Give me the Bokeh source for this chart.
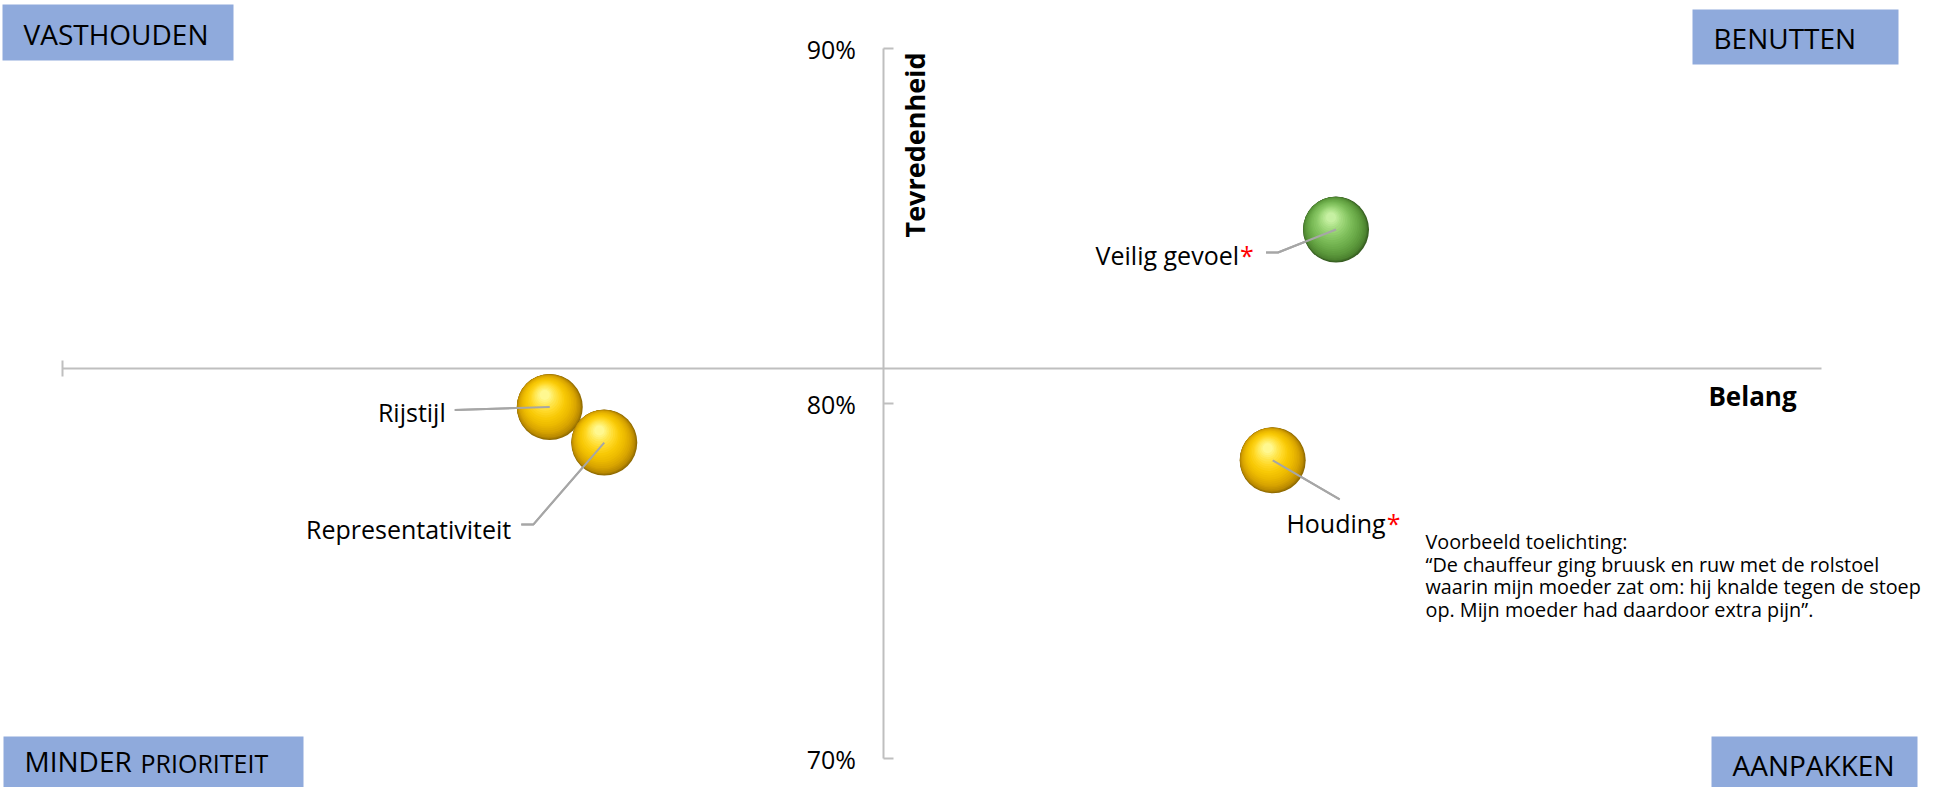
from bokeh.plotting import figure
from bokeh.models import Label, FixedTicker, ColumnDataSource
from bokeh.embed import file_html
from bokeh.resources import INLINE

# ---------------- data ----------------
names = ["Rijstijl", "Representativiteit", "Veilig gevoel", "Houding"]
belang = [27.7, 30.8, 72.4, 68.8]            # importance (relative scale 0-100)
tevredenheid = [79.9, 78.9, 84.9, 78.4]      # satisfaction, %
significant = [False, False, True, True]     # marked with a red asterisk
kleur = ["geel", "geel", "groen", "geel"]    # bubble colour class

y_ticks = [70, 80, 90]
y_tick_labels = ["70%", "80%", "90%"]
x_bounds = [0, 100]
x_cross = 46.7      # Belang value where the vertical axis crosses
y_cross = 81.0      # Tevredenheid value where the horizontal axis crosses

quadrant_labels = ["VASTHOUDEN", "BENUTTEN", "MINDER", "PRIORITEIT", "AANPAKKEN"]
toelichting = [
    "Voorbeeld toelichting:",
    "\u201cDe chauffeur ging bruusk en ruw met de rolstoel",
    "waarin mijn moeder zat om: hij knalde tegen de stoep",
    "op. Mijn moeder had daardoor extra pijn\u201d.",
]

# ---------------- layout / scale ----------------
W, H = 1956, 787
SX = (1821 - 62) / 100.0   # px per Belang unit
SY = 35.5                  # px per % point
x_start = 0 - 62 / SX
x_end = x_start + W / SX
y_end = 90 + 48 / SY
y_start = y_end - H / SY


def X(px):
    return x_start + px / SX


def Y(py):
    return y_end - py / SY


FONT = "Open Sans"
AXIS_COL = "#BFBFBF"

p = figure(width=W, height=H, x_range=(x_start, x_end), y_range=(y_start, y_end),
           output_backend="svg", toolbar_location=None, min_border=0,
           background_fill_color="white", border_fill_color="white")
p.grid.visible = False
p.outline_line_color = None

# ---- axes (crossing in the middle) ----
xa = p.xaxis[0]
xa.fixed_location = y_cross
xa.bounds = tuple(x_bounds)
xa.ticker = FixedTicker(ticks=[x_bounds[0]])
xa.major_label_overrides = {x_bounds[0]: ""}
xa.major_label_text_font_size = "0px"
xa.axis_line_color = AXIS_COL
xa.axis_line_width = 2
xa.major_tick_line_color = AXIS_COL
xa.major_tick_line_width = 2
xa.major_tick_in = 8
xa.major_tick_out = 8
xa.minor_tick_line_color = None

ya = p.yaxis[0]
ya.fixed_location = x_cross
ya.bounds = (y_ticks[0], y_ticks[-1])
ya.ticker = FixedTicker(ticks=y_ticks)
ya.major_label_overrides = {t: l for t, l in zip(y_ticks, y_tick_labels)}
ya.major_label_text_font = FONT
ya.major_label_text_font_size = "25px"
ya.major_label_text_color = "black"
ya.major_label_standoff = 28
ya.axis_line_color = AXIS_COL
ya.axis_line_width = 2
ya.major_tick_line_color = AXIS_COL
ya.major_tick_line_width = 2
ya.major_tick_in = 10
ya.major_tick_out = 0
ya.minor_tick_line_color = None

# ---- quadrant boxes ----
QBLUE = "#8FAADC"
boxes = [(2, 233, 4, 60), (1692, 1898, 9, 64), (3, 303, 736, 790), (1711, 1917, 736, 790)]
p.quad(left=[X(b[0]) for b in boxes], right=[X(b[1]) for b in boxes],
       top=[Y(b[2]) for b in boxes], bottom=[Y(b[3]) for b in boxes],
       fill_color=QBLUE, line_color=None)
q_pos = [(23, 33, 28), (1713, 37, 28), (24, 760, 28), (140, 762, 25), (1732, 764, 28)]
for txt, (lx_, ly_, fs) in zip(quadrant_labels, q_pos):
    p.add_layout(Label(x=X(lx_), y=Y(ly_), text=txt, text_font=FONT,
                       text_font_size=f"{fs}px", text_color="black",
                       text_align="left", text_baseline="middle"))

# ---- axis titles ----
p.add_layout(Label(x=X(914), y=Y(52), text="Tevredenheid", angle=1.5707963,
                   text_font=FONT, text_font_style="bold", text_font_size="27px",
                   text_align="right", text_baseline="middle", text_color="black"))
p.add_layout(Label(x=X(1752), y=Y(395), text="Belang",
                   text_font=FONT, text_font_style="bold", text_font_size="26px",
                   text_align="center", text_baseline="middle", text_color="black"))

# ---- leader lines (pixel offsets relative to each bubble) ----
leader_offsets = [
    [(0, 0), (-95, 3)],
    [(0, 0), (-71, 82), (-83, 82)],
    [(0, 0), (-58, 23), (-70, 23)],
    [(0, 0), (67, 39)],
]
# anchor = end of the name text, vertical middle of the text
label_offsets = [(-104, 5), (-93, 86), (-97, 25), (113, 63)]

lx, ly = [], []
for bx, by, offs in zip(belang, tevredenheid, leader_offsets):
    lx.append([bx + dx / SX for dx, dy in offs])
    ly.append([by - dy / SY for dx, dy in offs])
p.multi_line(lx, ly, line_color="#A6A6A6", line_width=2)

# ---- 3D-looking bubbles (layered circles, interpolated) ----
palettes = {
    "geel": ["#8F6A00", "#BE8D00", "#DAA600", "#ECBA00", "#F8C906", "#FFD826", "#FFE958", "#FFF890"],
    "groen": ["#365C21", "#4E8531", "#5D9A3D", "#6CAC4A", "#7CBC59", "#90CD6C", "#AADF85", "#C6F0A2"],
}
stops = [(0, 0, 33), (-1, -1, 31.5), (-2, -3, 28.5), (-3, -5, 24.5),
         (-4, -7, 20), (-4, -9, 15), (-5, -11, 10), (-5, -12, 5)]


def hex2rgb(h):
    return [int(h[i:i + 2], 16) for i in (1, 3, 5)]


def rgb2hex(c):
    return "#%02x%02x%02x" % tuple(int(round(v)) for v in c)


SUB = 3
layers = []
for i in range(len(stops)):
    if i == len(stops) - 1:
        layers.append((stops[i], i, i, 0.0))
        continue
    for s in range(SUB):
        t = s / SUB
        a, b = stops[i], stops[i + 1]
        layers.append(((a[0] + (b[0] - a[0]) * t, a[1] + (b[1] - a[1]) * t,
                        a[2] + (b[2] - a[2]) * t), i, i + 1, t))

for (dx, dy, r), i0, i1, t in layers:
    cols = []
    for k in kleur:
        c0, c1 = hex2rgb(palettes[k][i0]), hex2rgb(palettes[k][i1])
        cols.append(rgb2hex([u + (v - u) * t for u, v in zip(c0, c1)]))
    src = ColumnDataSource(dict(
        x=[b + dx / SX for b in belang],
        y=[tv - dy / SY for tv in tevredenheid],
        c=cols,
    ))
    p.scatter("x", "y", source=src, marker="circle", size=2 * r,
              fill_color="c", line_color=None)

# ---- lines redrawn on top of bubble centre ----
p.multi_line(lx, ly, line_color="#A6A6A6", line_width=2)

# ---- data labels ----
for name, bx, by, sig, (ox, oy) in zip(names, belang, tevredenheid, significant, label_offsets):
    ax = bx + ox / SX
    ay = by - oy / SY
    p.add_layout(Label(x=ax, y=ay, text=name, text_font=FONT, text_font_size="25px",
                       text_color="black", text_align="right", text_baseline="middle"))
    if sig:
        p.add_layout(Label(x=ax + 1 / SX, y=ay, text="*", text_font=FONT,
                           text_font_size="25px", text_color="#FF0000",
                           text_align="left", text_baseline="middle"))

# ---- explanation text ----
for i, line in enumerate(toelichting):
    p.add_layout(Label(x=X(1425), y=Y(541 + 22.5 * i), text=line, text_font=FONT,
                       text_font_size="19.8px", text_color="black",
                       text_align="left", text_baseline="middle"))

open("out.html", "w").write(file_html(p, INLINE))
